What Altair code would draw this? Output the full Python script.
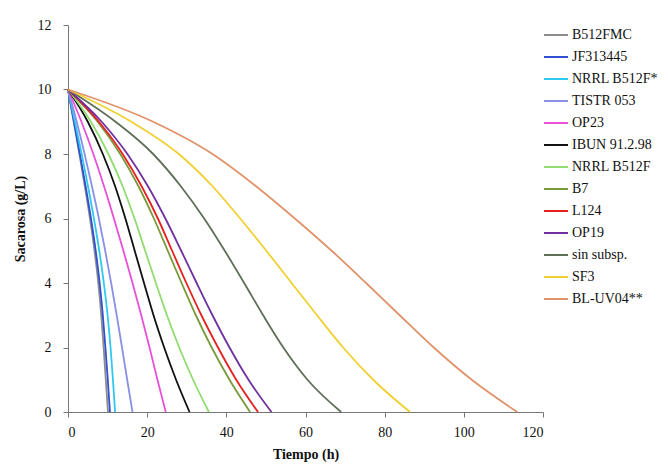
import altair as alt
import pandas as pd

strains = ["B512FMC", "JF313445", "NRRL B512F*", "TISTR 053", "OP23", "IBUN 91.2.98",
           "NRRL B512F", "B7", "L124", "OP19", "sin subsp.", "SF3", "BL-UV04**"]
colors = ["#8c8c8c", "#3050d0", "#30c8f0", "#8a90e8", "#e850d8", "#111111",
          "#90dc70", "#7a9a3a", "#e82020", "#7030a0", "#5f6f58", "#f0d030", "#e0936a"]

sucrose = [10, 9, 8, 7, 6, 5, 4, 3, 2, 1, 0]

t_B512FMC = [0, 1.45, 2.87, 4.25, 5.55, 6.7, 7.65, 8.4, 9.0, 9.55, 10.1]
t_JF313445 = [0, 1.5, 3.0, 4.45, 5.8, 7.0, 8.0, 8.8, 9.45, 10.05, 10.6]
t_NRRL_B512F_star = [0, 1.75, 3.45, 5.05, 6.55, 7.9, 9.05, 10.0, 10.75, 11.35, 11.9]
t_TISTR_053 = [0, 2.2, 4.2, 6.05, 7.8, 9.4, 10.9, 12.3, 13.65, 14.95, 16.3]
t_OP23 = [0, 3.4, 6.4, 9.1, 11.6, 14.0, 16.3, 18.5, 20.6, 22.6, 24.7]
t_IBUN = [0, 5.0, 8.8, 11.9, 14.5, 16.85, 19.2, 21.6, 24.3, 27.3, 30.7]
t_NRRL_B512F = [0, 5.8, 10.2, 13.8, 16.8, 19.5, 22.2, 25.0, 28.1, 31.6, 35.6]
t_B7 = [0, 7.5, 13.2, 17.8, 21.7, 25.2, 28.7, 32.3, 36.3, 40.8, 46.0]
t_L124 = [0, 7.8, 13.8, 18.6, 22.7, 26.3, 29.9, 33.7, 37.9, 42.5, 48.0]
t_OP19 = [0, 8.5, 15.0, 20.2, 24.6, 28.6, 32.5, 36.5, 40.8, 45.6, 51.4]
t_sin = [0, 12.0, 21.5, 28.5, 34.4, 39.6, 44.5, 49.3, 54.4, 60.5, 69.0]
t_SF3 = [0, 16.0, 28.0, 36.5, 43.5, 50.1, 56.5, 62.9, 69.5, 77.1, 86.4]
t_BLUV04 = [0, 21.5, 36.5, 47.5, 57.3, 66.6, 75.3, 83.8, 92.4, 102.0, 113.5]

times = [t_B512FMC, t_JF313445, t_NRRL_B512F_star, t_TISTR_053, t_OP23, t_IBUN,
         t_NRRL_B512F, t_B7, t_L124, t_OP19, t_sin, t_SF3, t_BLUV04]

rows = []
for i, (name, ts) in enumerate(zip(strains, times)):
    for t, s in zip(ts, sucrose):
        rows.append({"cepa": name, "orden": i, "t": t, "s": s})
df = pd.DataFrame(rows)

FONT = "Liberation Serif"

chart = alt.Chart(df).mark_line(interpolate="monotone", strokeWidth=1.8).encode(
    x=alt.X("t:Q", title="Tiempo (h)",
            scale=alt.Scale(domain=[0, 120], nice=False),
            axis=alt.Axis(values=[0, 20, 40, 60, 80, 100, 120], grid=False,
                          tickSize=5, labelPadding=8, titlePadding=8)),
    y=alt.Y("s:Q", title="Sacarosa (g/L)",
            scale=alt.Scale(domain=[0, 12], nice=False),
            axis=alt.Axis(values=[0, 2, 4, 6, 8, 10, 12], grid=False,
                          tickSize=5, labelPadding=12, titlePadding=10)),
    color=alt.Color("cepa:N", scale=alt.Scale(domain=strains, range=colors),
                    legend=alt.Legend(title=None, orient="none", legendX=475, legendY=-3,
                                      symbolType="stroke", symbolSize=576,
                                      symbolStrokeWidth=2, rowPadding=2,
                                      labelFontSize=14, labelFont=FONT,
                                      labelColor="#111", padding=0, labelOffset=3)),
    detail="cepa:N",
    order="t:Q",
).properties(
    width=475, height=387,
    autosize=alt.AutoSizeParams(type="none"),
    padding={"left": 60, "top": 17, "right": 117, "bottom": 58},
).configure_axis(
    labelFont=FONT, titleFont=FONT, labelFontSize=14, titleFontSize=14,
    titleFontWeight="bold", labelColor="#111", titleColor="#111",
    domainColor="#777", tickColor="#777",
).configure_view(stroke=None)

chart.save("out.html", embed_options={"renderer": "svg", "actions": False})
